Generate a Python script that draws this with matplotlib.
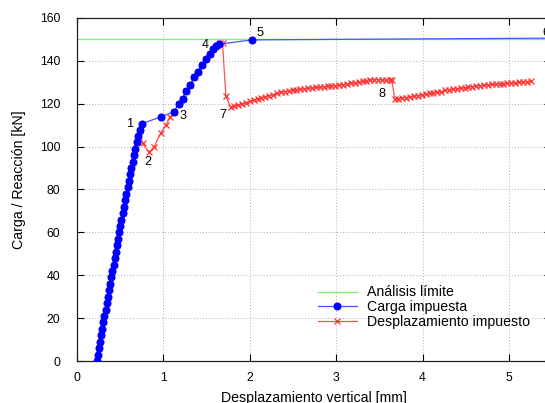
import matplotlib
matplotlib.use("Agg")
import matplotlib.pyplot as plt

plt.rcParams['font.family'] = ['Liberation Sans', 'DejaVu Sans']

# ---- data ----
limit_x = [0.0, 5.49]
limit_y = [150.0, 150.0]

load_x = [0.227, 0.240, 0.253, 0.266, 0.279, 0.292, 0.305, 0.318, 0.331, 0.344,
          0.357, 0.371, 0.384, 0.397, 0.410, 0.423, 0.436, 0.449, 0.462, 0.475,
          0.488, 0.501, 0.514, 0.527, 0.540, 0.553, 0.572, 0.587, 0.601, 0.616,
          0.630, 0.645, 0.660, 0.676, 0.692, 0.708, 0.725,
          0.748, 0.967, 1.121,
          1.175, 1.222, 1.264, 1.310, 1.356, 1.399, 1.445, 1.488, 1.534, 1.576, 1.607,
          1.645, 2.031, 5.49]
load_y = [0, 3, 6, 9, 12, 15, 18, 21, 24, 27,
          30, 33, 36, 39, 42, 45, 48, 51, 54, 57,
          60, 63, 66, 69, 72, 75, 78, 81, 84, 87,
          90, 93, 96, 99, 102, 105, 107.6,
          110.7, 113.8, 116.3,
          119.7, 122.4, 125.8, 128.7, 132.3, 134.9, 137.9, 140.7, 143.3, 145.4, 146.8,
          147.8, 149.8, 150.6]

disp_x = [0.227, 0.253, 0.279, 0.305, 0.331, 0.357, 0.384, 0.410, 0.436, 0.462,
          0.488, 0.514, 0.540, 0.572, 0.601, 0.630, 0.660, 0.692, 0.728,
          0.759, 0.832, 0.894, 0.967, 1.029, 1.075, 1.121,
          1.175, 1.222, 1.264, 1.310, 1.356, 1.399, 1.445, 1.488, 1.534, 1.576,
          1.615, 1.653, 1.684,
          1.723, 1.777, 1.820, 1.865, 1.910, 1.955, 2.000, 2.045, 2.090, 2.135,
          2.180, 2.225, 2.270, 2.315, 2.360, 2.405, 2.450, 2.495, 2.540, 2.585,
          2.630, 2.675, 2.720, 2.765, 2.810, 2.855, 2.900, 2.945, 2.990, 3.035,
          3.080, 3.125, 3.170, 3.215, 3.260, 3.305, 3.350, 3.395, 3.440, 3.485,
          3.530, 3.575, 3.620, 3.645,
          3.676, 3.720, 3.765, 3.810, 3.855, 3.900, 3.945, 3.990, 4.035, 4.080,
          4.125, 4.170, 4.215, 4.260, 4.305, 4.350, 4.395, 4.440, 4.485, 4.530,
          4.575, 4.620, 4.665, 4.710, 4.755, 4.800, 4.845, 4.890, 4.935, 4.980,
          5.025, 5.070, 5.115, 5.160, 5.205, 5.250]
disp_y = [0, 6, 12, 18, 24, 30, 36, 42, 48, 54,
          60, 66, 72, 78, 84, 90, 96, 102, 107.4,
          101.5, 97.3, 100.0, 106.2, 110.1, 113.6, 116.3,
          119.7, 122.4, 125.8, 128.7, 132.3, 134.9, 137.9, 140.7, 143.3, 145.4,
          147.4, 148.2, 148.2,
          123.6, 118.3, 118.8, 119.3, 119.9, 120.5, 121.1, 121.7, 122.3, 122.8,
          123.3, 123.8, 124.3, 124.8, 125.3, 125.7, 126.1, 126.4, 126.6, 126.8,
          127.0, 127.2, 127.4, 127.6, 127.7, 127.9, 128.1, 128.3, 128.5, 128.7,
          128.9, 129.2, 129.5, 129.8, 130.1, 130.4, 130.7, 131.0, 131.3, 131.2,
          131.1, 131.0, 131.0, 130.9,
          122.2, 122.4, 122.6, 122.9, 123.2, 123.5, 123.8, 124.2, 124.5, 124.8,
          125.1, 125.4, 125.7, 126.3, 126.6, 126.8, 127.0, 127.2, 127.4, 127.7,
          128.0, 128.2, 128.4, 128.6, 128.8, 129.0, 129.1, 129.2, 129.4, 129.5,
          129.7, 129.8, 130.0, 130.1, 130.3, 130.4]

ann_text = ['1', '2', '3', '4', '5', '6', '7', '8']
ann_x = [0.624, 0.825, 1.222, 1.48, 2.124, 5.43, 1.684, 3.534]
ann_y = [110.5, 92.7, 114.4, 147.4, 153.1, 153.1, 114.7, 124.4]

xticks = [0, 1, 2, 3, 4, 5]
yticks = [0, 20, 40, 60, 80, 100, 120, 140, 160]

# ---- figure ----
W, H = 545, 403
fig = plt.figure(figsize=(W / 100, H / 100), dpi=100)
x0, x1 = 77, 551
y0, y1 = 361, 18
ax = fig.add_axes([x0 / W, 1 - y0 / H, (x1 - x0) / W, (y0 - y1) / H])

ax.plot(limit_x, limit_y, color='#7ef07e', lw=1.0, label='Análisis límite', zorder=2)
ax.plot(load_x, load_y, color='#5050ff', lw=0.9, marker='o', ms=4.8,
        mfc='#0000ff', mec='#0000ff', label='Carga impuesta', zorder=4)
ax.plot(disp_x, disp_y, color='#ff5050', lw=0.9, marker='x', ms=4.5, mew=0.9,
        mec='#ff3030', label='Desplazamiento impuesto', zorder=3)

for t, x, y in zip(ann_text, ann_x, ann_y):
    ax.text(x, y, t, ha='center', va='center', fontsize=9.2, color='black',
            clip_on=False)

ax.set_xlim(0, 5.486)
ax.set_ylim(0, 160)
ax.set_xticks(xticks)
ax.set_yticks(yticks)
ax.tick_params(direction='in', length=5, width=0.8, top=True, right=True,
               labelsize=8.8)
ax.tick_params(axis='y', pad=12)
ax.tick_params(axis='x', pad=8)
ax.grid(True, color='#b0b0b0', linestyle=(0, (1, 2)), linewidth=0.7)
ax.set_axisbelow(True)
for s in ax.spines.values():
    s.set_linewidth(0.9)
    s.set_color('#202020')

ax.set_xlabel('Desplazamiento vertical [mm]', fontsize=10.2)
ax.set_ylabel('Carga / Reacción [kN]', fontsize=10.2)
ax.xaxis.set_label_coords(0.5, -0.087)
ax.yaxis.set_label_coords(-0.108, 0.528)

leg = ax.legend(loc='upper left',
                bbox_to_anchor=((318 - x0) / (x1 - x0), (y0 - 285.5) / (y0 - y1)),
                frameon=False, fontsize=10.2, handlelength=2.75, handletextpad=0.7,
                labelspacing=0.05, borderaxespad=0, borderpad=0)

fig.savefig('out.png', dpi=100)
